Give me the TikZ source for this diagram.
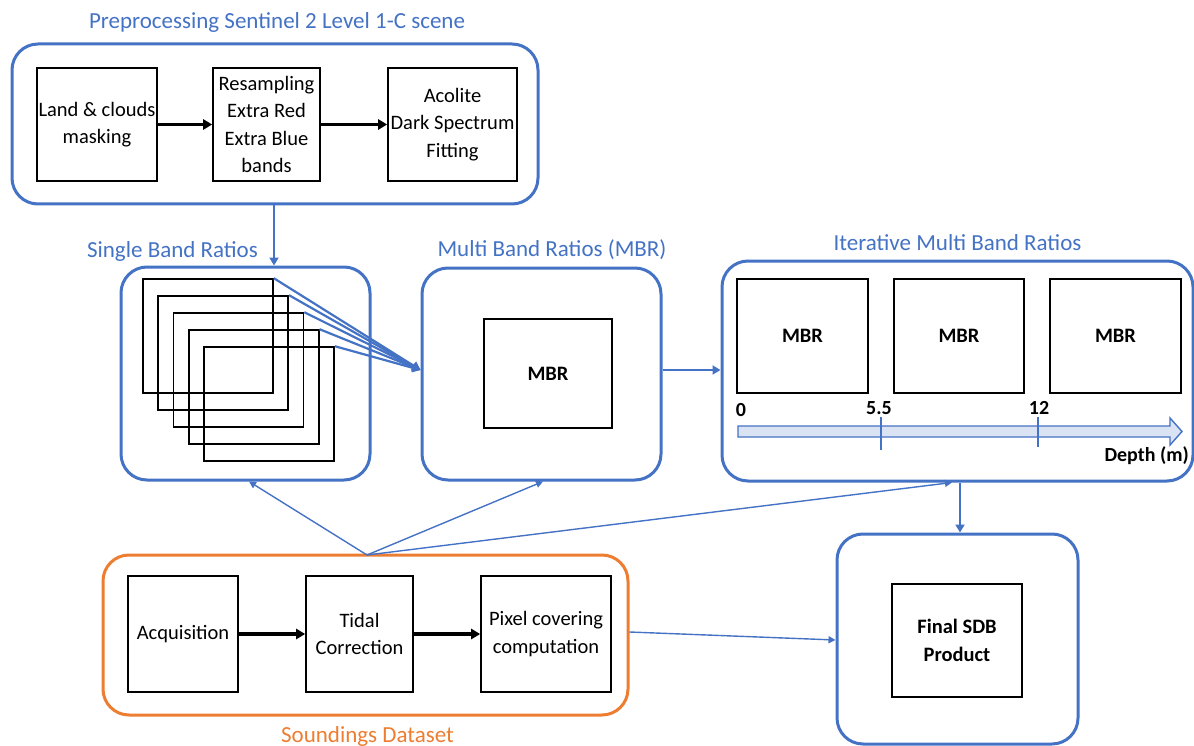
\documentclass[tikz,border=0pt]{standalone}
\usepackage{fontspec}
\setmainfont{Carlito}
\usetikzlibrary{arrows.meta}
\definecolor{cblue}{HTML}{4472C4}
\definecolor{corange}{HTML}{ED7D31}
\definecolor{cfill}{HTML}{DAE3F3}
\tikzset{
  cont/.style={draw=cblue, line width=3pt, rounded corners=26pt, minimum width=#1},
  ocont/.style={draw=corange, line width=3pt, rounded corners=26pt, minimum width=#1},
  ibox/.style={draw=black, line width=1.6pt, align=center, font=\fontsize{20.5}{27.5}\selectfont, inner sep=0pt},
  bbox/.style={ibox, font=\fontsize{20.5}{27.5}\selectfont\bfseries},
  ttl/.style={text=cblue, font=\fontsize{23}{26}\selectfont, inner sep=0pt},
  blk/.style={line width=3.2pt, -{Triangle[length=9pt,width=10pt]}},
  bar/.style={draw=cblue, line width=2.8pt, -{Triangle[length=8pt,width=9pt]}},
  thin/.style={draw=cblue, line width=1.4pt, -{Triangle[length=7pt,width=7pt]}},
  dl/.style={font=\fontsize{20}{22}\selectfont\bfseries, inner sep=0pt},
}
\begin{document}
\begin{tikzpicture}[x=1pt,y=-1pt]
\useasboundingbox (0,0) rectangle (1194,746);
% containers
\node[cont=526pt, minimum height=160pt] (pre) at (275,124) {};
\node[cont=249pt, minimum height=213pt] (sbr) at (245.5,373.5) {};
\node[cont=239pt, minimum height=212pt] (mbr) at (541.5,374) {};
\node[cont=471pt, minimum height=220pt] (imbr) at (957.5,371) {};
\node[cont=241pt, minimum height=210pt] (fin) at (957.5,639) {};
\node[ocont=525pt, minimum height=160pt] (snd) at (365.5,635) {};
% titles
\node[ttl] (tpre) at (277,22) {Preprocessing Sentinel 2 Level 1-C scene};
\node[ttl] (tsbr) at (172.5,251) {Single Band Ratios};
\node[ttl] (tmbr) at (552,250) {Multi Band Ratios (MBR)};
\node[ttl] (timbr) at (957.5,243) {Iterative Multi Band Ratios};
\node[ttl, text=corange] (tsnd) at (367.5,736) {Soundings Dataset};
% preprocessing boxes
\node[ibox, minimum width=120pt, minimum height=113pt] (b1) at (97,124.5) {Land \& clouds\\masking};
\node[ibox, minimum width=107pt, minimum height=113pt] (b2) at (266.5,124.5) {Resampling\\Extra Red\\Extra Blue\\bands};
\node[ibox, minimum width=129pt, minimum height=113pt] (b3) at (452.5,124.5) {Acolite\\Dark Spectrum\\Fitting};
\draw[blk] (b1.east) -- (b2.west);
\draw[blk] (b2.east) -- (b3.west);
% soundings boxes
\node[ibox, minimum width=110pt, minimum height=116pt] (acq) at (183,634) {Acquisition};
\node[ibox, minimum width=107pt, minimum height=116pt] (tid) at (359.5,634) {Tidal\\Correction};
\node[ibox, minimum width=130pt, minimum height=116pt] (pix) at (546,634) {Pixel covering\\computation};
\draw[blk] (acq.east) -- (tid.west);
\draw[blk] (tid.east) -- (pix.west);
% single band ratio stack
\foreach \i in {0,...,4} {
  \node[draw=black, line width=1.6pt, minimum width=130pt, minimum height=114pt, inner sep=0pt] (s\i) at ({208+15.25*\i},{336+17*\i}) {};
}
\coordinate (sbrin) at (mbr.west |- 0,370);
\foreach \i in {0,...,4} {
  \draw[bar, line width=2.2pt] (s\i.north east) -- (sbrin);
}
% MBR
\node[bbox, minimum width=128pt, minimum height=109pt] (mbrin) at (548,373.5) {MBR};
\node[bbox, minimum width=131pt, minimum height=114pt] (m1) at (802.5,336) {MBR};
\node[bbox, minimum width=130pt, minimum height=114pt] (m2) at (959,336) {MBR};
\node[bbox, minimum width=131pt, minimum height=114pt] (m3) at (1115.5,336) {MBR};
\node[bbox, minimum width=130pt, minimum height=113pt] (finin) at (957,640.5) {Final SDB\\Product};
% depth axis
\draw[draw=cblue, fill=cfill, line width=1.4pt] (738,426) -- (1170,426) -- (1170,418) -- (1182,431.5) -- (1170,445) -- (1170,437) -- (738,437) -- cycle;
\draw[cblue, line width=1.3pt] (881,417) -- (881,450);
\draw[cblue, line width=1.3pt] (1038,417) -- (1038,447);
\node[dl] (d0) at (741,410) {0};
\node[dl] (d55) at (879,408) {5.5};
\node[dl] (d12) at (1039,408) {12};
\node[dl, anchor=east] (dm) at (1189,456) {Depth (m)};
% connectors
\draw[bar] (pre.south -| 274,0) -- (sbr.north -| 274,0);
\draw[bar] (mbr.east |- 0,370) -- (imbr.west |- 0,370);
\draw[bar] (imbr.south -| 960,0) -- (fin.north -| 960,0);
\coordinate (conv) at (367,555);
\draw[thin] (conv) -- (sbr.south -| 249,0);
\draw[thin] (conv) -- (mbr.south -| 543,0);
\draw[thin] (conv) -- (imbr.south -| 952,0);
\draw[thin] (snd.east |- 0,632) -- (fin.west |- 0,640);
\end{tikzpicture}
\end{document}
